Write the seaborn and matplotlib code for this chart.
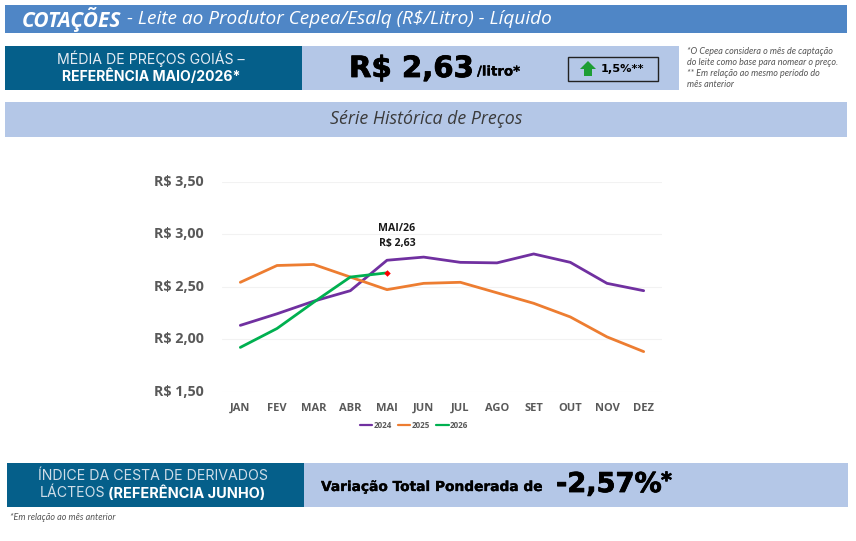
import matplotlib
matplotlib.use('Agg')
import matplotlib.pyplot as plt
import matplotlib.patheffects as pe
from matplotlib.patches import Polygon, Rectangle
from matplotlib.transforms import ScaledTranslation
import pandas as pd
import seaborn as sns

W, H = 856, 541

# values
months = ['JAN', 'FEV', 'MAR', 'ABR', 'MAI', 'JUN', 'JUL', 'AGO', 'SET', 'OUT', 'NOV', 'DEZ']
v2024 = [2.13, 2.24, 2.36, 2.46, 2.75, 2.78, 2.73, 2.725, 2.81, 2.73, 2.53, 2.46]
v2025 = [2.54, 2.70, 2.71, 2.59, 2.47, 2.53, 2.54, 2.44, 2.34, 2.21, 2.02, 1.88]
v2026 = [1.92, 2.10, 2.35, 2.59, 2.63]
y_ticks = [1.5, 2.0, 2.5, 3.0, 3.5]
y_labels = ['R$ 1,50', 'R$ 2,00', 'R$ 2,50', 'R$ 3,00', 'R$ 3,50']
line_colors = {'2024': '#7030A0', '2025': '#ED7D31', '2026': '#00B050'}

rows = []
for year, vals in [('2024', v2024), ('2025', v2025), ('2026', v2026)]:
    for m, v in zip(months, vals):
        rows.append({'mes': m, 'ano': year, 'preco': v})
df = pd.DataFrame(rows)

sns.set_theme(style='white')
plt.rcParams['font.family'] = ['Open Sans', 'DejaVu Sans']

fig = plt.figure(figsize=(W / 100, H / 100), dpi=100, facecolor='white')

# background layer in pixel coordinates (y going down, like the reference)
bg = fig.add_axes([0, 0, 1, 1])
bg.set_xlim(0, W)
bg.set_ylim(H, 0)
bg.axis('off')


def panel(x0, y0, x1, y1, color):
    bg.add_patch(Rectangle((x0, y0), x1 - x0, y1 - y0, facecolor=color, edgecolor='none'))


def heavy(x, y, txt, size, stroke=0.6):
    # DejaVu bold with a thin stroke, closest thing here to the black weight of the original
    t = bg.text(x, y, txt, color='black', fontsize=size, fontweight='bold', va='center', family='DejaVu Sans')
    if stroke > 0:
        t.set_path_effects([pe.withStroke(linewidth=stroke, foreground='black')])
    return t


BLUE = '#4F86C6'
DARK = '#055F8A'
LIGHT = '#B4C7E7'

panel(5, 5, 847, 33, BLUE)
panel(5, 46, 302, 90, DARK)
panel(302, 46, 679, 90, LIGHT)
panel(5, 102, 847, 137, LIGHT)
panel(7, 463, 304, 507, DARK)
panel(304, 463, 848, 507, LIGHT)

# header
bg.text(22, 19, 'COTAÇÕES', color='white', fontsize=15, fontweight='bold', style='italic', va='center')
bg.text(127, 19, '- Leite ao Produtor Cepea/Esalq (R$/Litro) - Líquido', color='white', fontsize=13.7,
        style='italic', va='center')

# price block
bg.text(151, 59, 'MÉDIA DE PREÇOS GOIÁS –', color='#E4EBF3', fontsize=10.2, ha='center', va='center',
        family='Inter')
bg.text(151, 76, 'REFERÊNCIA MAIO/2026*', color='white', fontsize=10.1, fontweight='bold', ha='center',
        va='center', family='Inter')
heavy(349, 69, 'R$ 2,63', 21)
heavy(477, 72, '/litro*', 9.6, stroke=0.2)

bg.add_patch(Rectangle((568, 56.5), 90, 24, facecolor='none', edgecolor='#222222', linewidth=1))
bg.add_patch(Polygon([(588, 61), (596, 69), (592, 69), (592, 76), (584, 76), (584, 69), (580, 69)],
                     facecolor='#1E9E34', edgecolor='none'))
heavy(601, 69, '1,5%**', 8.2, stroke=0)

notes = ['*O Cepea considera o mês de captação', 'do leite como base para nomear o preço.',
         '** Em relação ao mesmo período do', 'mês anterior']
for i, note in enumerate(notes):
    bg.text(687, 51 + i * 11.3, note, color='#555555', fontsize=6.5, style='italic', va='center', family='Lato')

bg.text(426, 119, 'Série Histórica de Preços', color='#3A3A3A', fontsize=12.8, style='italic', ha='center',
        va='center')

# bottom block
bg.text(152.5, 476, 'ÍNDICE DA CESTA DE DERIVADOS', color='#CFDDE8', fontsize=10.2, ha='center', va='center',
        family='Inter')
bg.text(72.5, 493, 'LÁCTEOS', color='#CFDDE8', fontsize=10.2, ha='center', va='center', family='Inter')
bg.text(187, 493, '(REFERÊNCIA JUNHO)', color='white', fontsize=10.4, fontweight='bold', ha='center',
        va='center', family='Inter')
heavy(321, 487, 'Variação Total Ponderada de', 9.9, stroke=0.2)
heavy(556, 485, '-2,57%', 19.6)
heavy(661, 481, '*', 15)
bg.text(10, 518, '*Em relação ao mês anterior', color='#555555', fontsize=6.5, style='italic', va='center',
        family='Lato')

# line chart
ax = fig.add_axes([222 / W, 1 - 391.5 / H, 440 / W, 210 / H])
ax.patch.set_alpha(0)
sns.lineplot(data=df, x='mes', y='preco', hue='ano', palette=line_colors, sort=False, linewidth=2,
             errorbar=None, ax=ax)
ax.set_xlim(-0.5, 11.5)
ax.set_ylim(1.5, 3.5)
ax.set_yticks(y_ticks)
ax.set_yticklabels(y_labels)
ax.set_xlabel('')
ax.set_ylabel('')
ax.grid(axis='y', color='#F2F2F2', linewidth=0.8)
ax.set_axisbelow(True)
sns.despine(ax=ax, left=True, bottom=True, top=True, right=True)
ax.tick_params(axis='y', length=0, pad=13, labelsize=10.3, labelcolor='#595959')
ax.tick_params(axis='x', length=0, pad=8, labelsize=8, labelcolor='#595959')
up = ScaledTranslation(0, 1.5 / 100, fig.dpi_scale_trans)
for lab in ax.get_yticklabels():
    lab.set_transform(lab.get_transform() + up)
for lab in ax.get_xticklabels() + ax.get_yticklabels():
    lab.set_fontweight('bold')

# highlight of the last point
last_m = months[len(v2026) - 1]
ax.scatter([last_m], [v2026[-1]], marker='D', s=11, color='#FF0000', zorder=5, linewidths=0)
ax.text(4.27, 3.05, 'MAI/26', ha='center', va='center', fontsize=7.6, fontweight='bold', color='#1A1A1A')
ax.text(4.27, 2.905, 'R$ 2,63', ha='center', va='center', fontsize=7.6, fontweight='bold', color='#1A1A1A')

leg = ax.legend(loc='center', bbox_to_anchor=(0.436, -0.16), ncol=3, frameon=False, fontsize=5.8,
                handlelength=1.6, handletextpad=0.15, columnspacing=0.7)
for t in leg.get_texts():
    t.set_color('#595959')
    t.set_fontweight('bold')
for h in leg.get_lines():
    h.set_linewidth(1.6)

fig.savefig('out.png', dpi=100, facecolor='white')
